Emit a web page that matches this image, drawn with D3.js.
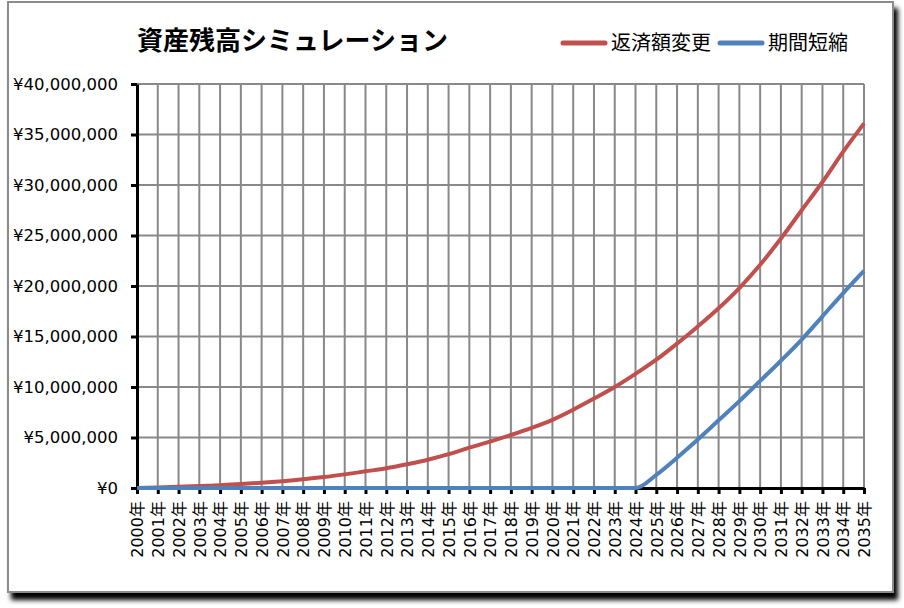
<!DOCTYPE html>
<html>
<head>
<meta charset="utf-8">
<script src="https://cdn.jsdelivr.net/npm/d3@7"></script>
<style>
  body { margin: 0; background: #fff; }
  svg { display: block; }
</style>
</head>
<body>
<div id="chart"></div>
<script>
const years = d3.range(2000, 2036).map((y) => y + '年');

// 返済額変更 (red)
const repaymentChange = [
  0, 50000, 120000, 200000, 280000, 400000, 530000, 680000, 860000, 1080000,
  1350000, 1650000, 1950000, 2350000, 2800000, 3350000, 4000000, 4600000, 5250000, 5950000,
  6750000, 7750000, 8850000, 10000000, 11300000, 12700000, 14300000, 16000000, 17800000, 19800000,
  22100000, 24700000, 27500000, 30300000, 33300000, 36100000
];

// 期間短縮 (blue)
const termShorten = [
  0, 0, 0, 0, 0, 0, 0, 0, 0, 0,
  0, 0, 0, 0, 0, 0, 0, 0, 0, 0,
  0, 0, 0, 0, 0, 1300000, 3000000, 4800000, 6700000, 8600000,
  10600000, 12600000, 14700000, 17000000, 19300000, 21500000
];

const yTicks = [0, 5000000, 10000000, 15000000, 20000000, 25000000, 30000000, 35000000, 40000000];

const series = [
  { name: '返済額変更', values: repaymentChange, color: '#C0504D' },
  { name: '期間短縮', values: termShorten, color: '#4F81BD' }
];

const W = 904, H = 608;
const margin = { top: 84, right: 40, bottom: 120, left: 137 };
const width = 864 - margin.left;
const height = 488 - margin.top;

const svg = d3.select('#chart').append('svg').attr('width', W).attr('height', H);

const defs = svg.append('defs');
const filter = defs.append('filter').attr('id', 'shadow')
  .attr('x', '-5%').attr('y', '-5%').attr('width', '115%').attr('height', '115%');
filter.append('feDropShadow')
  .attr('dx', 4).attr('dy', 7).attr('stdDeviation', 2.5)
  .attr('flood-color', '#000').attr('flood-opacity', 1);

// chart frame
svg.append('rect')
  .attr('x', 8).attr('y', 2)
  .attr('width', 885).attr('height', 590)
  .attr('fill', '#fff')
  .attr('stroke', '#8c8c8c')
  .attr('stroke-width', 2)
  .attr('filter', 'url(#shadow)');

const g = svg.append('g').attr('transform', `translate(${margin.left},${margin.top})`);

const x = d3.scalePoint().domain(years).range([0, width]);
const y = d3.scaleLinear().domain([0, 40000000]).range([height, 0]);

// grid
g.append('g').selectAll('line.h')
  .data(yTicks.slice(1))
  .enter().append('line')
  .attr('x1', 0).attr('x2', width)
  .attr('y1', (d) => y(d)).attr('y2', (d) => y(d))
  .style('stroke', '#898989').style('stroke-width', 2);

g.append('g').selectAll('line.v')
  .data(years.slice(1))
  .enter().append('line')
  .attr('x1', (d) => x(d)).attr('x2', (d) => x(d))
  .attr('y1', 0).attr('y2', height)
  .style('stroke', '#898989').style('stroke-width', 2);

// axes
const yAxis = g.append('g')
  .call(d3.axisLeft(y).tickValues(yTicks).tickSizeInner(6).tickSizeOuter(0).tickPadding(13)
    .tickFormat((d) => '¥' + d3.format(',')(d)));
yAxis.select('.domain').style('stroke', '#000').style('stroke-width', 3);
yAxis.selectAll('.tick line').style('stroke', '#000').style('stroke-width', 3);
yAxis.selectAll('.tick text')
  .style('font-family', '"DejaVu Sans", sans-serif')
  .style('font-size', '16.5px')
  .style('fill', '#000');

const xAxis = g.append('g')
  .attr('transform', `translate(0,${height})`)
  .call(d3.axisBottom(x).tickSizeInner(6).tickSizeOuter(0));
xAxis.select('.domain').style('stroke', '#000').style('stroke-width', 3);
xAxis.selectAll('.tick line').style('stroke', '#000').style('stroke-width', 3);
xAxis.selectAll('.tick text')
  .attr('transform', 'rotate(-90)')
  .attr('x', -13)
  .attr('y', 0)
  .attr('dy', '0.36em')
  .style('text-anchor', 'end')
  .style('font-family', '"DejaVu Sans", "Noto Sans CJK JP", sans-serif')
  .style('font-size', '16px')
  .style('fill', '#000');

// lines (drawn over the axes, as in the original)
const line = d3.line()
  .x((d, i) => x(years[i]))
  .y((d) => y(d))
  .curve(d3.curveMonotoneX);

series.forEach((s) => {
  g.append('path')
    .datum(s.values)
    .attr('d', line)
    .style('fill', 'none')
    .style('stroke', s.color)
    .style('stroke-width', 4)
    .style('stroke-linejoin', 'round');
});

// title
svg.append('text')
  .attr('x', 137)
  .attr('y', 50)
  .style('font-family', '"Noto Sans CJK JP", sans-serif')
  .style('font-weight', 'bold')
  .style('font-size', '26px')
  .style('fill', '#000')
  .text('資産残高シミュレーション');

// legend
const legendX = [563, 720];
series.forEach((s, i) => {
  const lg = svg.append('g').attr('transform', `translate(${legendX[i]},43)`);
  lg.append('line')
    .attr('x1', 0).attr('x2', 42)
    .attr('y1', 0).attr('y2', 0)
    .style('stroke', s.color)
    .style('stroke-width', 5)
    .style('stroke-linecap', 'round');
  lg.append('text')
    .attr('x', 48)
    .attr('y', 0)
    .attr('dy', '0.36em')
    .style('font-family', '"Noto Sans CJK JP", sans-serif')
    .style('font-size', '20px')
    .style('fill', '#000')
    .text(s.name);
});
</script>
</body>
</html>
